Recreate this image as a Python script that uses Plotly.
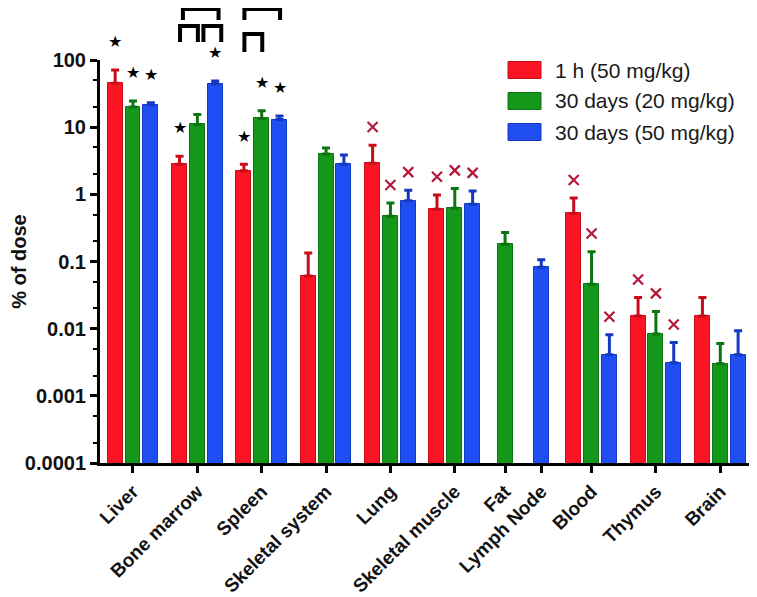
import math
import plotly.graph_objects as go

# tissue distribution, % of injected dose (log scale)
organs = ["Liver", "Bone marrow", "Spleen", "Skeletal system", "Lung", "Skeletal muscle",
          "Fat", "Lymph Node", "Blood", "Thymus", "Brain"]

series_names = ["1 h (50 mg/kg)", "30 days (20 mg/kg)", "30 days (50 mg/kg)"]

mean_1h = [45, 2.8, 2.25, 0.061, 2.9, 0.6, None, None, 0.52, 0.0155, 0.0155]
err_1h = [26, 0.9, 0.55, 0.073, 2.5, 0.38, None, None, 0.36, 0.0135, 0.0135]

mean_30d20 = [20, 11, 13.5, 4.0, 0.47, 0.62, 0.18, None, 0.046, 0.0083, 0.003]
err_30d20 = [4.5, 4.5, 4.0, 0.9, 0.27, 0.6, 0.09, None, 0.094, 0.0097, 0.003]

mean_30d50 = [21.5, 44, 13, 2.8, 0.8, 0.71, None, 0.082, 0.0041, 0.0031, 0.0041]
err_30d50 = [1.5, 4.5, 1.7, 1.05, 0.35, 0.41, None, 0.024, 0.004, 0.0031, 0.0052]

# significance marks: star (*) and cross (x)
star_1h = [1, 1, 1, 0, 0, 0, 0, 0, 0, 0, 0]
star_30d20 = [1, 0, 1, 0, 0, 0, 0, 0, 0, 0, 0]
star_30d50 = [1, 1, 1, 0, 0, 0, 0, 0, 0, 0, 0]
cross_1h = [0, 0, 0, 0, 1, 1, 0, 0, 1, 1, 0]
cross_30d20 = [0, 0, 0, 0, 1, 1, 0, 0, 1, 1, 0]
cross_30d50 = [0, 0, 0, 0, 1, 1, 0, 0, 1, 1, 0]

# comparison brackets: (organ, from series, to series, level)
brackets = [(1, 0, 1, 1), (1, 1, 2, 1), (1, 0, 2, 0), (2, 0, 1, 2), (2, 0, 2, 0)]

means = [mean_1h, mean_30d20, mean_30d50]
errs = [err_1h, err_30d20, err_30d50]
stars = [star_1h, star_30d20, star_30d50]
crosses = [cross_1h, cross_30d20, cross_30d50]
colors = ["#fb1424", "#13981a", "#1f4ff3"]
edge_colors = ["#c80c1a", "#0c7412", "#1538c0"]

GROUP_GAP = 0.61
SINGLE_W = 1.42
BAR_W = 0.84
Y_RANGE = [-4, 2]

# page has an 8px body margin, so the figure is a bit smaller than the window
PAGE_OFF = 8

# x position of every bar
positions = [[None] * len(organs) for _ in means]
centers = []
edge = -0.5
for i in range(len(organs)):
    present = [s for s in range(len(means)) if means[s][i] is not None]
    n = len(present)
    w = n if n > 1 else SINGLE_W
    c = edge + w / 2
    centers.append(c)
    for k, s in enumerate(present):
        positions[s][i] = c + (k - (n - 1) / 2)
    edge += w + GROUP_GAP

fig = go.Figure()

for s in range(len(means)):
    idx = [i for i in range(len(organs)) if means[s][i] is not None]
    fig.add_trace(go.Bar(
        x=[positions[s][i] for i in idx],
        y=[means[s][i] for i in idx],
        width=BAR_W,
        name=series_names[s],
        marker=dict(color=colors[s], line=dict(color=edge_colors[s], width=1)),
        error_y=dict(type="data", symmetric=False,
                     array=[errs[s][i] for i in idx],
                     arrayminus=[0] * len(idx),
                     color=edge_colors[s], thickness=3, width=4),
        showlegend=False,
    ))

# stars (paper-y annotations, some sit above the axis top) and crosses
for s in range(len(means)):
    cx, cy = [], []
    for i in range(len(organs)):
        if means[s][i] is None:
            continue
        cap = means[s][i] + errs[s][i]
        if stars[s][i]:
            ylog = math.log10(cap) + 0.42
            fig.add_annotation(x=positions[s][i], xref="x", yref="paper",
                               y=(ylog - Y_RANGE[0]) / (Y_RANGE[1] - Y_RANGE[0]),
                               text="★", showarrow=False, xanchor="center", yanchor="middle",
                               font=dict(size=16, color="black", family="DejaVu Sans"))
        if crosses[s][i]:
            cx.append(positions[s][i])
            cy.append(cap * 10 ** 0.27)
    fig.add_trace(go.Scatter(x=cx, y=cy, mode="markers", cliponaxis=False, showlegend=False,
                             marker=dict(symbol="x-thin", size=10,
                                         line=dict(color="#b4173a", width=2.2))))

# window pixel rows -> paper y (plot area spans rows 60..463)
def py(p):
    return (463 - p) / 403

levels = [(9, 20), (26, 42), (34, 52)]
shifts = {(1, 1, 2): 0.34, (1, 0, 2): 0.19}
for organ, a, b, lev in brackets:
    sh = shifts.get((organ, a, b), 0.03)
    x0 = positions[a][organ] + sh
    x1 = positions[b][organ] + sh
    top, bot = levels[lev]
    fig.add_shape(type="path", xref="x", yref="paper",
                  path=f"M {x0},{py(bot)} L {x0},{py(top)} L {x1},{py(top)} L {x1},{py(bot)}",
                  line=dict(color="black", width=4))

# legend drawn by hand to get the large swatches
for s in range(len(means)):
    yc = py(70 + 31 * s)
    fig.add_shape(type="rect", xref="paper", yref="paper",
                  x0=(508 - 100) / 657, x1=(541 - 100) / 657,
                  y0=yc - 8.5 / 403, y1=yc + 8.5 / 403,
                  fillcolor=colors[s], line=dict(color=edge_colors[s], width=1))
    fig.add_annotation(x=(553 - 100) / 657, y=yc, xref="paper", yref="paper",
                       text=series_names[s], showarrow=False, xanchor="left", yanchor="middle",
                       font=dict(size=21, color="#1a1a1a", family="Liberation Sans, Arial"))

tick_vals = [0.0001, 0.001, 0.01, 0.1, 1, 10, 100]
tick_text = ["0.0001", "0.001", "0.01", "0.1", "1", "10", "100"]

fig.update_layout(
    width=757 - PAGE_OFF, height=597 - PAGE_OFF,
    margin=dict(l=100 - PAGE_OFF, r=0, t=60 - PAGE_OFF, b=134),
    plot_bgcolor="white", paper_bgcolor="white",
    bargap=0,
    font=dict(family="Liberation Sans, Arial", color="#111111"),
    xaxis=dict(
        range=[-0.85, 36.0], automargin=False,
        tickvals=centers, ticktext=organs, tickangle=-45,
        tickfont=dict(size=19, weight="bold", color="#111111"),
        ticks="outside", ticklen=7, tickwidth=3, tickcolor="black",
        showline=True, linewidth=3, linecolor="black",
        showgrid=False, zeroline=False,
    ),
    yaxis=dict(
        type="log", range=Y_RANGE,
        tickvals=tick_vals, ticktext=tick_text,
        tickfont=dict(size=20, weight="bold", color="#111111"),
        ticks="outside", ticklen=7, tickwidth=3, tickcolor="black",
        minor=dict(ticks="outside", ticklen=4, tickwidth=2, tickcolor="black", showgrid=False),
        showline=True, linewidth=3, linecolor="black",
        showgrid=False, zeroline=False,
        title=dict(text="% of dose", font=dict(size=20, weight="bold", color="#111111"), standoff=4),
    ),
)

fig.write_html("out.html")
